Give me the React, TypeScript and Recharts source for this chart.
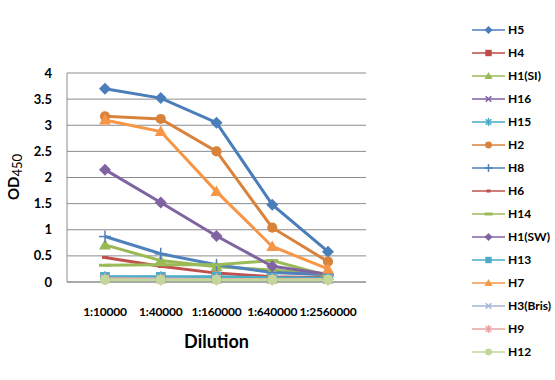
import React from "react";
import { LineChart, Line, XAxis, YAxis, CartesianGrid, Legend } from "recharts";

const dilutions = ["1:10000", "1:40000", "1:160000", "1:640000", "1:2560000"];

const h5 = [3.7, 3.52, 3.05, 1.48, 0.58];
const h4 = [0.08, 0.07, 0.07, 0.06, 0.06];
const h1si = [0.71, 0.41, 0.29, 0.23, 0.13];
const h16 = [0.07, 0.07, 0.06, 0.06, 0.05];
const h15 = [0.09, 0.09, 0.08, 0.07, 0.07];
const h2 = [3.17, 3.12, 2.5, 1.04, 0.39];
const h8 = [0.87, 0.54, 0.33, 0.18, 0.14];
const h6 = [0.47, 0.3, 0.17, 0.1, 0.08];
const h14 = [0.32, 0.33, 0.33, 0.41, 0.12];
const h1sw = [2.15, 1.52, 0.88, 0.3, 0.15];
const h13 = [0.1, 0.1, 0.1, 0.08, 0.07];
const h7 = [3.1, 2.88, 1.73, 0.68, 0.25];
const h3bris = [0.06, 0.06, 0.05, 0.05, 0.05];
const h9 = [0.06, 0.05, 0.05, 0.05, 0.05];
const h12 = [0.04, 0.04, 0.04, 0.04, 0.04];

const yTicks = [0, 0.5, 1, 1.5, 2, 2.5, 3, 3.5, 4];

type Shape = "diamond" | "square" | "triangle" | "x" | "star" | "circle" | "plus" | "dash" | "longdash";

const series: { name: string; values: number[]; color: string; shape: Shape }[] = [
  { name: "H5", values: h5, color: "#4A7EBB", shape: "diamond" },
  { name: "H4", values: h4, color: "#BE4B48", shape: "square" },
  { name: "H1(SI)", values: h1si, color: "#98B954", shape: "triangle" },
  { name: "H16", values: h16, color: "#7D60A0", shape: "x" },
  { name: "H15", values: h15, color: "#46AAC5", shape: "star" },
  { name: "H2", values: h2, color: "#D8823C", shape: "circle" },
  { name: "H8", values: h8, color: "#4F81BD", shape: "plus" },
  { name: "H6", values: h6, color: "#C0504D", shape: "dash" },
  { name: "H14", values: h14, color: "#9BBB59", shape: "longdash" },
  { name: "H1(SW)", values: h1sw, color: "#8064A2", shape: "diamond" },
  { name: "H13", values: h13, color: "#4BACC6", shape: "square" },
  { name: "H7", values: h7, color: "#F79646", shape: "triangle" },
  { name: "H3(Bris)", values: h3bris, color: "#A5B5D9", shape: "x" },
  { name: "H9", values: h9, color: "#E5A3A2", shape: "star" },
  { name: "H12", values: h12, color: "#C3D69B", shape: "circle" },
];

const data = dilutions.map((d, i) => {
  const row: Record<string, string | number> = { dilution: d };
  series.forEach((s) => (row[s.name] = s.values[i]));
  return row;
});

function Marker({ shape, x, y, color, s }: { shape: Shape; x: number; y: number; color: string; s: number }) {
  switch (shape) {
    case "diamond":
      return <polygon points={`${x},${y - s} ${x + s},${y} ${x},${y + s} ${x - s},${y}`} fill={color} />;
    case "square":
      return <rect x={x - s * 0.8} y={y - s * 0.8} width={s * 1.6} height={s * 1.6} fill={color} />;
    case "triangle":
      return <polygon points={`${x},${y - s} ${x + s},${y + s * 0.75} ${x - s},${y + s * 0.75}`} fill={color} />;
    case "x":
      return (
        <g stroke={color} strokeWidth={1.5}>
          <line x1={x - s * 0.7} y1={y - s * 0.7} x2={x + s * 0.7} y2={y + s * 0.7} />
          <line x1={x - s * 0.7} y1={y + s * 0.7} x2={x + s * 0.7} y2={y - s * 0.7} />
        </g>
      );
    case "star":
      return (
        <g stroke={color} strokeWidth={1.5}>
          <line x1={x - s * 0.7} y1={y - s * 0.7} x2={x + s * 0.7} y2={y + s * 0.7} />
          <line x1={x - s * 0.7} y1={y + s * 0.7} x2={x + s * 0.7} y2={y - s * 0.7} />
          <line x1={x} y1={y - s} x2={x} y2={y + s} />
        </g>
      );
    case "circle":
      return <circle cx={x} cy={y} r={s * 0.85} fill={color} />;
    case "plus":
      return (
        <g stroke={color} strokeWidth={1.5}>
          <line x1={x} y1={y - s} x2={x} y2={y + s} />
          <line x1={x - s} y1={y} x2={x + s} y2={y} />
        </g>
      );
    case "dash":
      return <rect x={x - s * 0.5} y={y - 1.5} width={s} height={3} fill={color} />;
    case "longdash":
      return <rect x={x - s} y={y - 1.5} width={s * 2} height={3} fill={color} />;
  }
}

function LegendBox() {
  return (
    <div style={{ fontFamily: "Lato", fontWeight: 700, fontSize: 12, color: "#000" }}>
      {series.map((s) => (
        <div key={s.name} style={{ display: "flex", alignItems: "center", height: 23 }}>
          <svg width={36} height={14}>
            <line x1={0} y1={7} x2={33} y2={7} stroke={s.color} strokeWidth={1.5} />
            <Marker shape={s.shape} x={16.5} y={7} color={s.color} s={4} />
          </svg>
          <span>{s.name}</span>
        </div>
      ))}
    </div>
  );
}

function YLabel() {
  return (
    <text
      transform="translate(19,177) rotate(-90)"
      textAnchor="middle"
      fontFamily="Lato"
      fontWeight={700}
      fontSize={15}
      fill="#000"
    >
      OD
      <tspan fontSize={13} fontWeight={400} dy={3}>
        450
      </tspan>
    </text>
  );
}

export default function App() {
  return (
    <div style={{ position: "absolute", left: 0, top: 0, background: "#fff" }}>
      <LineChart width={555} height={380} data={data} margin={{ top: 73, right: 109, left: 0, bottom: 28 }}>
        <CartesianGrid vertical={false} stroke="#8c8c8c" />
        <XAxis
          dataKey="dilution"
          height={70}
          interval={0}
          padding={{ left: 38, right: 38 }}
          tickLine={false}
          axisLine={{ stroke: "#8c8c8c" }}
          tick={{ fontFamily: "Lato", fontWeight: 700, fontSize: 12, letterSpacing: -0.2, fill: "#000" }}
          tickMargin={19}
          label={{ value: "Dilution", position: "insideBottom", offset: 4, fontFamily: "Lato", fontWeight: 700, fontSize: 18, fill: "#000" }}
        />
        <YAxis
          width={67}
          domain={[0, 4]}
          ticks={yTicks}
          tickLine={false}
          axisLine={{ stroke: "#8c8c8c" }}
          tick={{ fontFamily: "Lato", fontWeight: 700, fontSize: 13, fill: "#000" }}
          tickMargin={9}
          label={<YLabel />}
        />
        <Legend
          layout="vertical"
          align="right"
          verticalAlign="top"
          content={() => <LegendBox />}
          wrapperStyle={{ left: 472, top: 18, width: 80 }}
        />
        {series.map((s) => (
          <Line
            key={s.name}
            dataKey={s.name}
            stroke={s.color}
            strokeWidth={3}
            isAnimationActive={false}
            dot={(p: any) => (
              <g key={`${s.name}-${p.index}`}>
                <Marker shape={s.shape} x={p.cx} y={p.cy} color={s.color} s={6} />
              </g>
            )}
            activeDot={false}
          />
        ))}
      </LineChart>
    </div>
  );
}
